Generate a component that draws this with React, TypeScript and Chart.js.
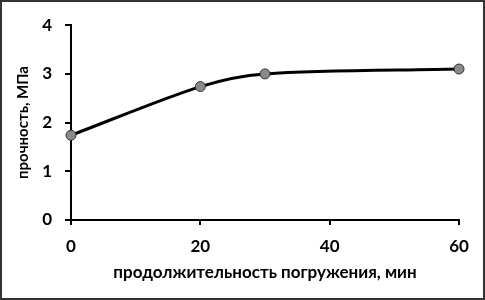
import React, { useEffect, useRef } from "react";
import { Chart, registerables } from "chart.js";

Chart.register(...registerables);

const xValues = [0, 20, 30, 60];
const yValues = [1.74, 2.74, 3.0, 3.1];
const xTicks = [0, 20, 40, 60];
const yTicks = [0, 1, 2, 3, 4];
const xTitle = "продолжительность погружения, мин";
const yTitle = "прочность, МПа";

const FONT = "Lato";

export default function App() {
  const ref = useRef<HTMLCanvasElement | null>(null);
  useEffect(() => {
    document.body.style.margin = "0";
    const ctx = ref.current!;
    const chart = new Chart(ctx, {
      type: "line",
      data: {
        datasets: [
          {
            data: xValues.map((x, i) => ({ x, y: yValues[i] })),
            borderColor: "#000",
            borderWidth: 3,
            tension: 0.3,
            pointRadius: 5,
            pointBackgroundColor: "#8a8a8a",
            pointBorderColor: "#333",
            pointBorderWidth: 1,
            clip: false as any,
          },
        ],
      },
      options: {
        animation: false,
        responsive: false,
        maintainAspectRatio: false,
        layout: { padding: { top: 22, right: 24, left: 0, bottom: 0 } },
        plugins: { legend: { display: false }, tooltip: { enabled: false } },
        scales: {
          x: {
            type: "linear",
            min: 0,
            max: 60,
            afterBuildTicks: (s: any) => {
              s.ticks = xTicks.map((v) => ({ value: v }));
            },
            afterFit: (s: any) => {
              s.height = 78;
            },
            ticks: { color: "#000", font: { family: FONT, size: 17, weight: "bold" }, padding: 11 },
            grid: { drawOnChartArea: false, drawTicks: true, tickLength: 5, color: "#000", lineWidth: 2 },
            border: { color: "#000", width: 2 },
            title: { display: true, text: xTitle, color: "#000", font: { family: FONT, size: 17, weight: "bold" }, padding: { top: 0, bottom: 15 } },
          },
          y: {
            type: "linear",
            min: 0,
            max: 4,
            afterBuildTicks: (s: any) => {
              s.ticks = yTicks.map((v) => ({ value: v }));
            },
            afterFit: (s: any) => {
              s.width = 69;
            },
            ticks: { color: "#000", font: { family: FONT, size: 17, weight: "bold" }, padding: 13 },
            grid: { drawOnChartArea: false, drawTicks: true, tickLength: 6, color: "#000", lineWidth: 2 },
            border: { color: "#000", width: 2 },
            title: { display: true, text: yTitle, color: "#000", font: { family: FONT, size: 15, weight: "bold" }, padding: { top: 12, bottom: 0 } },
          },
        },
      },
    });
    return () => chart.destroy();
  }, []);
  return (
    <div style={{ position: "absolute", left: 0, top: 0, width: 485, height: 300, border: "2px solid #333", boxSizing: "border-box", background: "#fff" }}>
      <canvas ref={ref} width={481} height={296} style={{ display: "block" }} />
    </div>
  );
}
